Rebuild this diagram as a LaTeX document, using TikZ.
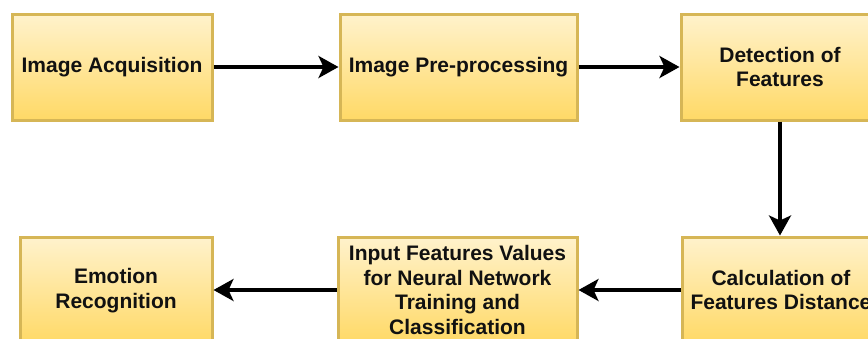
\documentclass[tikz,border=0pt]{standalone}
\usepackage{fontspec}
\setmainfont{Liberation Sans}
\usetikzlibrary{arrows.meta}
\definecolor{boxtop}{HTML}{FFF2CC}
\definecolor{boxbot}{HTML}{FFD966}
\definecolor{boxline}{HTML}{D6B656}
\definecolor{txt}{HTML}{111111}
\tikzset{
  stagebox/.style={rectangle, draw=boxline, line width=3pt, top color=boxtop, bottom color=boxbot,
    inner sep=0pt, align=center, text=txt, font=\fontsize{21}{24.5}\selectfont\bfseries},
  flow/.style={line width=3.5pt, -{Stealth[length=20pt, width=22pt, inset=5pt]}}
}
\begin{document}
\begin{tikzpicture}[x=1pt, y=-1pt]
\useasboundingbox (0,0) rectangle (868,338);
\clip (0,0) rectangle (868,338);
\node[stagebox, minimum width=200pt, minimum height=106pt] (acq) at (112,67) {Image Acquisition};
\node[stagebox, minimum width=237pt, minimum height=106pt] (pre) at (458.5,67) {Image Pre-processing};
\node[stagebox, minimum width=198pt, minimum height=106pt] (det) at (780,67) {Detection of\\Features};
\node[stagebox, minimum width=198pt, minimum height=106pt] (calc) at (781,290) {Calculation of\\Features Distance};
\node[stagebox, minimum width=239pt, minimum height=106pt] (inp) at (457.5,290) {Input Features Values\\for Neural Network\\Training and\\Classification};
\node[stagebox, minimum width=192pt, minimum height=106pt] (emo) at (116,290.5) {Emotion\\Recognition};
\draw[flow] (acq.east) -- (pre.west);
\draw[flow] (pre.east) -- (det.west);
\draw[flow] (det.south) -- (det.south |- calc.north);
\draw[flow] (calc.west) -- (calc.west -| inp.east);
\draw[flow] (inp.west) -- (inp.west -| emo.east);
\end{tikzpicture}
\end{document}
